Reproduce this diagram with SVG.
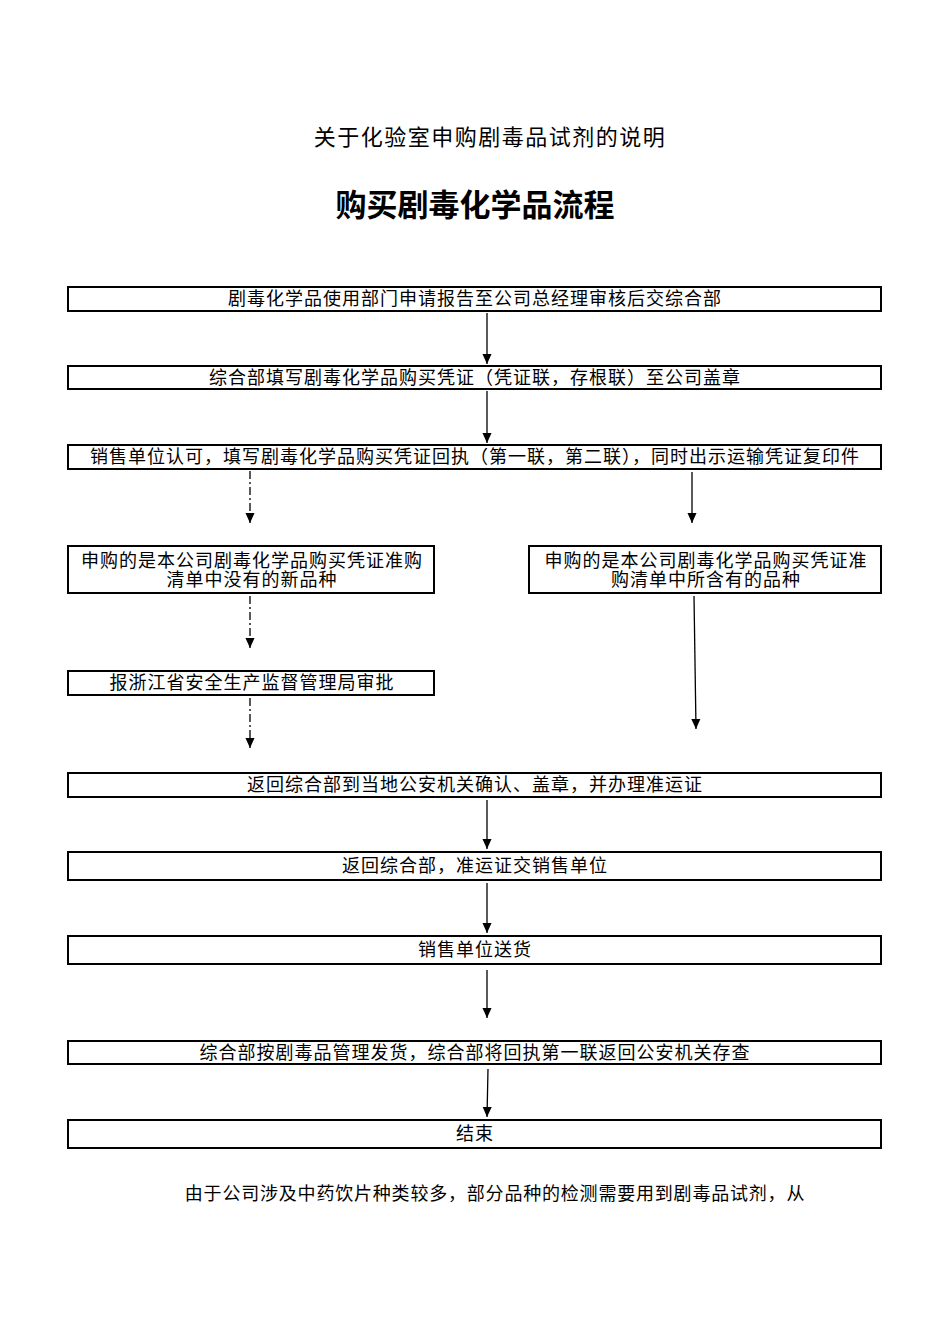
<svg xmlns="http://www.w3.org/2000/svg" width="950" height="1344" viewBox="0 0 950 1344">
<style>
text{font-family:"Liberation Serif","Noto Sans CJK SC",serif;fill:#000;text-anchor:middle}
.t{font-size:18px;letter-spacing:1px}
.box{fill:#fff;stroke:#000;stroke-width:2}
.c{stroke:#000;stroke-width:1.3;fill:none}
.dd{stroke-dasharray:8,3,2,3}
</style>
<defs>
<marker id="ah" markerWidth="10" markerHeight="12" refX="5" refY="11" orient="auto-start-reverse" markerUnits="userSpaceOnUse" viewBox="0 0 10 12">
<path d="M0,0 L10,0 L5,11 Z" transform="rotate(0)" fill="#000"/>
</marker>
<marker id="a" markerWidth="10" markerHeight="11" refX="11" refY="5" orient="auto" markerUnits="userSpaceOnUse" viewBox="0 0 11 10">
<path d="M0,0 L11,5 L0,10 Z" fill="#000"/>
</marker>
</defs>
<rect width="950" height="1344" fill="#fff"/>
<text x="490" y="145" style="font-size:22px;letter-spacing:1.5px">关于化验室申购剧毒品试剂的说明</text>
<text x="475" y="216" style="font-size:31px;font-weight:bold">购买剧毒化学品流程</text>

<g id="connectors">
<line class="c" x1="487" y1="313" x2="487" y2="364" marker-end="url(#a)"/>
<line class="c" x1="487" y1="391" x2="487" y2="443" marker-end="url(#a)"/>
<line class="c dd" x1="250" y1="471" x2="250" y2="523" marker-end="url(#a)"/>
<line class="c" x1="692" y1="472" x2="692" y2="523" marker-end="url(#a)"/>
<line class="c dd" x1="250" y1="596" x2="250" y2="648" marker-end="url(#a)"/>
<line class="c dd" x1="250" y1="698" x2="250" y2="748" marker-end="url(#a)"/>
<line class="c" x1="694" y1="596" x2="696" y2="729" marker-end="url(#a)"/>
<line class="c" x1="487" y1="800" x2="487" y2="849" marker-end="url(#a)"/>
<line class="c" x1="487" y1="883" x2="487" y2="933" marker-end="url(#a)"/>
<line class="c" x1="487" y1="970" x2="487" y2="1018" marker-end="url(#a)"/>
<line class="c" x1="488" y1="1069" x2="487" y2="1117" marker-end="url(#a)"/>
</g>

<g id="n1"><rect class="box" x="68" y="287" width="813" height="24"/><text class="t" x="475" y="305">剧毒化学品使用部门申请报告至公司总经理审核后交综合部</text></g>
<g id="n2"><rect class="box" x="68" y="366" width="813" height="23"/><text class="t" x="475" y="384">综合部填写剧毒化学品购买凭证（凭证联，存根联）至公司盖章</text></g>
<g id="n3"><rect class="box" x="68" y="445" width="813" height="24"/><text class="t" x="475" y="463">销售单位认可，填写剧毒化学品购买凭证回执（第一联，第二联），同时出示运输凭证复印件</text></g>
<g id="n4"><rect class="box" x="68" y="546" width="366" height="47"/><text class="t" x="252" y="567">申购的是本公司剧毒化学品购买凭证准购</text><text class="t" x="252" y="586">清单中没有的新品种</text></g>
<g id="n5"><rect class="box" x="529" y="546" width="352" height="47"/><text class="t" x="706" y="567">申购的是本公司剧毒化学品购买凭证准</text><text class="t" x="706" y="586">购清单中所含有的品种</text></g>
<g id="n6"><rect class="box" x="68" y="671" width="366" height="24"/><text class="t" x="252" y="689">报浙江省安全生产监督管理局审批</text></g>
<g id="n7"><rect class="box" x="68" y="773" width="813" height="24"/><text class="t" x="475" y="791">返回综合部到当地公安机关确认、盖章，并办理准运证</text></g>
<g id="n8"><rect class="box" x="68" y="852" width="813" height="28"/><text class="t" x="475" y="872">返回综合部，准运证交销售单位</text></g>
<g id="n9"><rect class="box" x="68" y="936" width="813" height="28"/><text class="t" x="475" y="956">销售单位送货</text></g>
<g id="n10"><rect class="box" x="68" y="1041" width="813" height="23"/><text class="t" x="475" y="1059">综合部按剧毒品管理发货，综合部将回执第一联返回公安机关存查</text></g>
<g id="n11"><rect class="box" x="68" y="1120" width="813" height="28"/><text class="t" x="475" y="1140">结束</text></g>

<text x="495" y="1200" style="font-size:18px;letter-spacing:0.8px">由于公司涉及中药饮片种类较多，部分品种的检测需要用到剧毒品试剂，从</text>
</svg>
